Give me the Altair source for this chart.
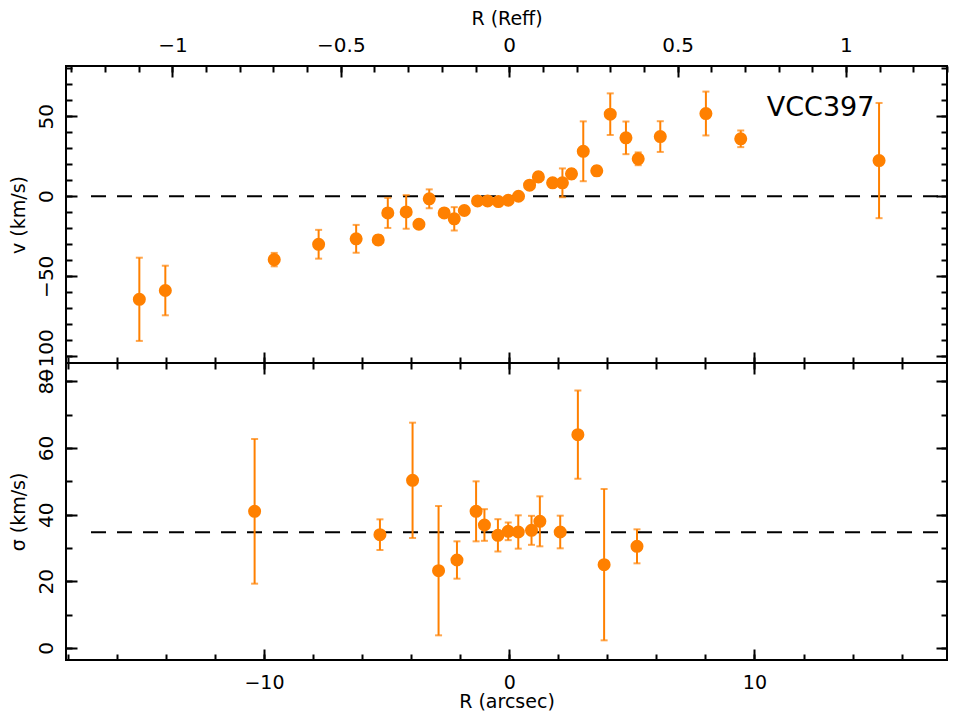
import altair as alt
import pandas as pd

# ---------------- data ----------------
# velocity profile
r_v = [-15.08, -14.02, -9.58, -7.77, -6.24, -5.34, -4.95, -4.20, -3.68, -3.26,
       -2.65, -2.24, -1.83, -1.29, -0.88, -0.44, -0.04, 0.38, 0.83, 1.19,
       1.77, 2.17, 2.54, 3.02, 3.57, 4.12, 4.76, 5.26, 6.16, 8.02, 9.44, 15.08]
v = [-64.4, -58.9, -39.6, -30.0, -26.6, -27.3, -10.4, -9.8, -17.5, -1.6,
     -10.4, -14.1, -8.9, -2.9, -2.9, -3.3, -2.5, 0.0, 6.9, 12.1,
     8.4, 8.4, 14.0, 28.1, 15.9, 51.3, 36.5, 23.4, 37.3, 51.7, 35.9, 22.3]
v_err = [26.0, 15.5, 4.2, 9.0, 8.7, 3.0, 9.4, 10.5, 2.5, 5.9,
         2.5, 7.3, 2.5, 2.0, 2.0, 2.0, 2.0, 2.0, 2.5, 3.0,
         2.5, 9.0, 3.0, 18.7, 3.0, 13.0, 10.2, 4.0, 9.6, 13.7, 5.2, 36.0]

# dispersion profile
r_s = [-10.38, -5.27, -3.94, -2.88, -2.13, -1.35, -1.01, -0.46, -0.04, 0.37,
       0.91, 1.25, 2.08, 2.80, 3.87, 5.21]
sig = [41.0, 34.0, 50.3, 23.2, 26.4, 41.0, 36.9, 33.8, 35.0, 34.8,
       35.3, 38.0, 34.8, 64.0, 25.0, 30.5]
sig_err = [21.7, 4.6, 17.3, 19.4, 5.6, 9.0, 4.75, 4.85, 2.65, 5.0,
           4.35, 7.5, 4.9, 13.25, 22.7, 5.1]

# reference levels
v_level = [0.0]
sig_level = [34.7]
level_start = [-17.05]

galaxy = ["VCC397"]
galaxy_pos_r = [10.5]
galaxy_pos_v = [50.0]

# axes
REFF = 13.73  # arcsec per Reff
reff_major = [-1, -0.5, 0, 0.5, 1]
reff_minor = [-1.3, -1.2, -1.1, -1.0, -0.9, -0.8, -0.7, -0.6, -0.5, -0.4, -0.3,
              -0.2, -0.1, 0.0, 0.1, 0.2, 0.3, 0.4, 0.5, 0.6, 0.7, 0.8, 0.9,
              1.0, 1.1, 1.2, 1.3]
x_major = [-10, 0, 10]
x_minor = [-18, -16, -14, -12, -10, -8, -6, -4, -2, 0, 2, 4, 6, 8, 10, 12, 14, 16]
v_major = [-100, -50, 0, 50]
v_minor = [-100, -90, -80, -70, -60, -50, -40, -30, -20, -10, 0, 10, 20, 30, 40, 50, 60, 70, 80]
s_major = [0, 20, 40, 60, 80]
s_minor = [0, 10, 20, 30, 40, 50, 60, 70, 80]

x_domain = [-18.07, 17.85]
v_domain = [-104.2, 81.4]
s_domain = [-3.6, 85.5]

ORANGE = "#FF8000"
FONT = "DejaVu Sans"
W = 881
H = 297
MAJ = 11
MIN = 6

# ---------------- tables ----------------
df_v = pd.DataFrame({"r": r_v, "val": v, "err": v_err})
df_v["lo"] = df_v["val"] - df_v["err"]
df_v["hi"] = df_v["val"] + df_v["err"]
df_s = pd.DataFrame({"r": r_s, "val": sig, "err": sig_err})
df_s["lo"] = df_s["val"] - df_s["err"]
df_s["hi"] = df_s["val"] + df_s["err"]
df_vl = pd.DataFrame({"x": level_start, "x2": [x_domain[1]], "y": v_level})
df_sl = pd.DataFrame({"x": level_start, "x2": [x_domain[1]], "y": sig_level})
df_txt = pd.DataFrame({"r": galaxy_pos_r, "v": galaxy_pos_v, "t": galaxy})


def tick_axis(orient, values, size, **kw):
    base = dict(orient=orient, values=values, tickSize=size, offset=-size,
                domain=False, grid=False, ticks=True, tickColor="black",
                tickWidth=2, labels=False, title=None)
    base.update(kw)
    return alt.Axis(**base)


xs = alt.Scale(domain=x_domain, nice=False, zero=False)
vs = alt.Scale(domain=v_domain, nice=False, zero=False)
ss = alt.Scale(domain=s_domain, nice=False, zero=False)

ylab = dict(labels=True, labelAngle=270, labelAlign="center",
            labelBaseline="alphabetic", labelPadding=14, labelFlush=False,
            labelOverlap=False, labelBound=False)

# ---------------- top panel ----------------
ax_top_major = tick_axis("top", [t * REFF for t in reff_major], MAJ,
                         labels=True, labelPadding=15, labelBaseline="alphabetic",
                         labelFlush=False, labelOverlap=False,
                         labelExpr="format(datum.value / %s, '.2~f')" % REFF,
                         title="R (Reff)", titlePadding=7)
ax_top_minor = tick_axis("top", [t * REFF for t in reff_minor], MIN)
ax_bot_major_t = tick_axis("bottom", x_major, MAJ)
ax_bot_minor_t = tick_axis("bottom", x_minor, MIN)

ay_left_major_v = tick_axis("left", v_major, MAJ, title="v (km/s)", titlePadding=8, **ylab)
ay_left_minor_v = tick_axis("left", v_minor, MIN)
ay_right_major_v = tick_axis("right", v_major, MAJ)
ay_right_minor_v = tick_axis("right", v_minor, MIN)

base_v = alt.Chart(df_v)
bars_v = base_v.mark_rule(color=ORANGE, strokeWidth=2).encode(
    x=alt.X("r:Q", scale=xs, axis=ax_top_major),
    y=alt.Y("lo:Q", scale=vs, axis=ay_left_major_v),
    y2="hi:Q",
)
caplo_v = base_v.mark_tick(color=ORANGE, orient="horizontal", size=7, thickness=2).encode(
    x=alt.X("r:Q", scale=xs, axis=ax_top_minor),
    y=alt.Y("lo:Q", scale=vs, axis=ay_left_minor_v),
)
caphi_v = base_v.mark_tick(color=ORANGE, orient="horizontal", size=7, thickness=2).encode(
    x=alt.X("r:Q", scale=xs, axis=ax_bot_major_t),
    y=alt.Y("hi:Q", scale=vs, axis=ay_right_major_v),
)
pts_v = base_v.mark_circle(color=ORANGE, size=170, opacity=1).encode(
    x=alt.X("r:Q", scale=xs, axis=ax_bot_minor_t),
    y=alt.Y("val:Q", scale=vs, axis=ay_right_minor_v),
)
lvl_v = alt.Chart(df_vl).mark_rule(color="black", strokeWidth=2, strokeDash=[15, 11]).encode(
    x=alt.X("x:Q", scale=xs, axis=None), x2="x2:Q",
    y=alt.Y("y:Q", scale=vs, axis=None),
)
txt = alt.Chart(df_txt).mark_text(font=FONT, fontSize=27, align="left",
                                  baseline="alphabetic", color="black").encode(
    x=alt.X("r:Q", scale=xs, axis=None),
    y=alt.Y("v:Q", scale=vs, axis=None),
    text="t:N",
)

top = alt.layer(lvl_v, bars_v, caplo_v, caphi_v, pts_v, txt).resolve_axis(
    x="independent", y="independent").properties(width=W, height=H)

# ---------------- bottom panel ----------------
ax_b_major = tick_axis("bottom", x_major, MAJ, labels=True, labelPadding=13,
                       labelFontSize=19, labelFlush=False, labelOverlap=False,
                       title="R (arcsec)", titlePadding=0)
ax_b_minor = tick_axis("bottom", x_minor, MIN)
ax_t_major_b = tick_axis("top", x_major, MAJ)
ax_t_minor_b = tick_axis("top", x_minor, MIN)

ay_left_major_s = tick_axis("left", s_major, MAJ, title="σ (km/s)", titlePadding=8, **ylab)
ay_left_minor_s = tick_axis("left", s_minor, MIN)
ay_right_major_s = tick_axis("right", s_major, MAJ)
ay_right_minor_s = tick_axis("right", s_minor, MIN)

base_s = alt.Chart(df_s)
bars_s = base_s.mark_rule(color=ORANGE, strokeWidth=2).encode(
    x=alt.X("r:Q", scale=xs, axis=ax_b_major),
    y=alt.Y("lo:Q", scale=ss, axis=ay_left_major_s),
    y2="hi:Q",
)
caplo_s = base_s.mark_tick(color=ORANGE, orient="horizontal", size=7, thickness=2).encode(
    x=alt.X("r:Q", scale=xs, axis=ax_b_minor),
    y=alt.Y("lo:Q", scale=ss, axis=ay_left_minor_s),
)
caphi_s = base_s.mark_tick(color=ORANGE, orient="horizontal", size=7, thickness=2).encode(
    x=alt.X("r:Q", scale=xs, axis=ax_t_major_b),
    y=alt.Y("hi:Q", scale=ss, axis=ay_right_major_s),
)
pts_s = base_s.mark_circle(color=ORANGE, size=170, opacity=1).encode(
    x=alt.X("r:Q", scale=xs, axis=ax_t_minor_b),
    y=alt.Y("val:Q", scale=ss, axis=ay_right_minor_s),
)
lvl_s = alt.Chart(df_sl).mark_rule(color="black", strokeWidth=2, strokeDash=[15, 11]).encode(
    x=alt.X("x:Q", scale=xs, axis=None), x2="x2:Q",
    y=alt.Y("y:Q", scale=ss, axis=None),
)

bottom = alt.layer(lvl_s, bars_s, caplo_s, caphi_s, pts_s).resolve_axis(
    x="independent", y="independent").properties(width=W, height=H)

chart = alt.vconcat(top, bottom, spacing=0).properties(
    padding={"left": 0, "top": 0, "right": 0, "bottom": 0},
    background="white",
    bounds="flush",
).configure_view(
    stroke="black", strokeWidth=2
).configure_axis(
    labelFont=FONT, titleFont=FONT, labelFontSize=20, titleFontSize=19,
    labelColor="black", titleColor="black", titleFontWeight="normal",
)

chart.save("out.html", embed_options={"renderer": "svg", "actions": False})
